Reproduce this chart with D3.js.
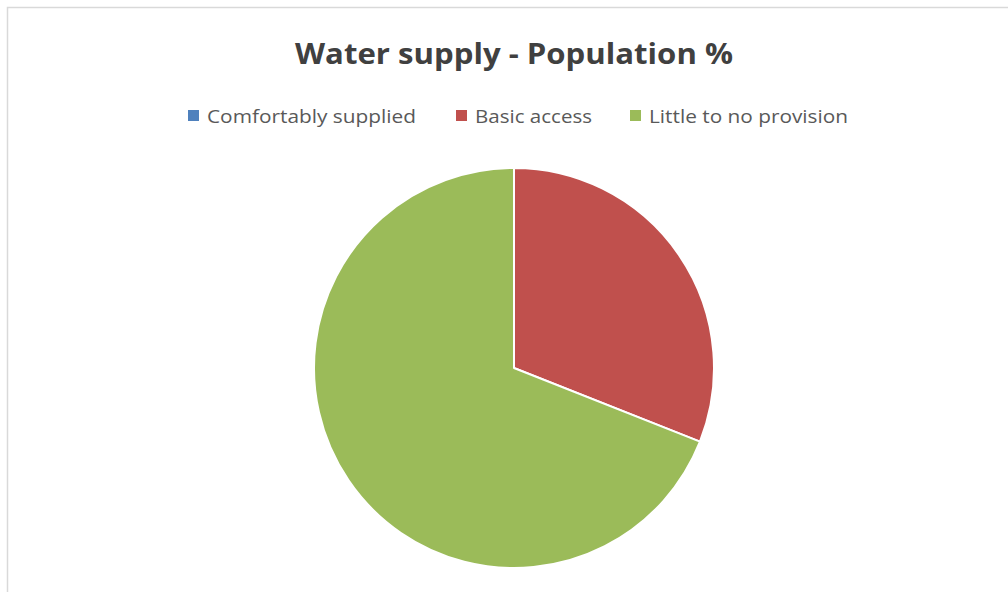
<!DOCTYPE html>
<html>
<head>
<meta charset="utf-8">
<script src="https://cdn.jsdelivr.net/npm/d3@7"></script>
<style>
html,body{margin:0;padding:0;background:#fff;}
svg{display:block;}
</style>
</head>
<body>
<svg id="chart" width="1008" height="592"></svg>
<script>
const title = "Water supply - Population %";
const categories = ["Comfortably supplied", "Basic access", "Little to no provision"];
const values = [0, 31, 69];
const colors = ["#4f81bd", "#c0504d", "#9bbb59"];

const svg = d3.select("#chart");
const W = 1008, H = 592;

svg.append("rect").attr("x", 0).attr("y", 0).attr("width", W).attr("height", H).attr("fill", "#fff");
// chart border (only left and top visible)
svg.append("rect").attr("x", 7.5).attr("y", 7.5).attr("width", W + 20).attr("height", H + 20)
  .attr("fill", "none").attr("stroke", "#d9d9d9").attr("stroke-width", 1.5);

// title
svg.append("text").attr("x", 514).attr("y", 64).attr("text-anchor", "middle")
  .attr("font-family", "'Open Sans', sans-serif").attr("font-weight", "bold")
  .attr("font-size", 29).attr("fill", "#404040")
  .attr("textLength", 438).attr("lengthAdjust", "spacingAndGlyphs")
  .text(title);

// legend
const legendX = [188, 456, 630];
const legendTextW = [209, 117, 199];
const lg = svg.append("g");
categories.forEach((c, i) => {
  lg.append("rect").attr("x", legendX[i]).attr("y", 110).attr("width", 11).attr("height", 11).attr("fill", colors[i]);
  lg.append("text").attr("x", legendX[i] + 19).attr("y", 122.5)
    .attr("font-family", "'Open Sans', sans-serif").attr("font-size", 19).attr("fill", "#595959")
    .attr("textLength", legendTextW[i]).attr("lengthAdjust", "spacingAndGlyphs")
    .text(c);
});

// pie
const cx = 514, cy = 368, r = 200;
const pie = d3.pie().sort(null).value(d => d)(values);
const arc = d3.arc().innerRadius(0).outerRadius(r);
svg.append("g").attr("transform", `translate(${cx},${cy})`)
  .selectAll("path").data(pie).join("path")
  .attr("d", arc)
  .attr("fill", (d, i) => colors[i])
  .attr("stroke", "#fff").attr("stroke-width", 2).attr("stroke-linejoin", "round");
</script>
</body>
</html>
